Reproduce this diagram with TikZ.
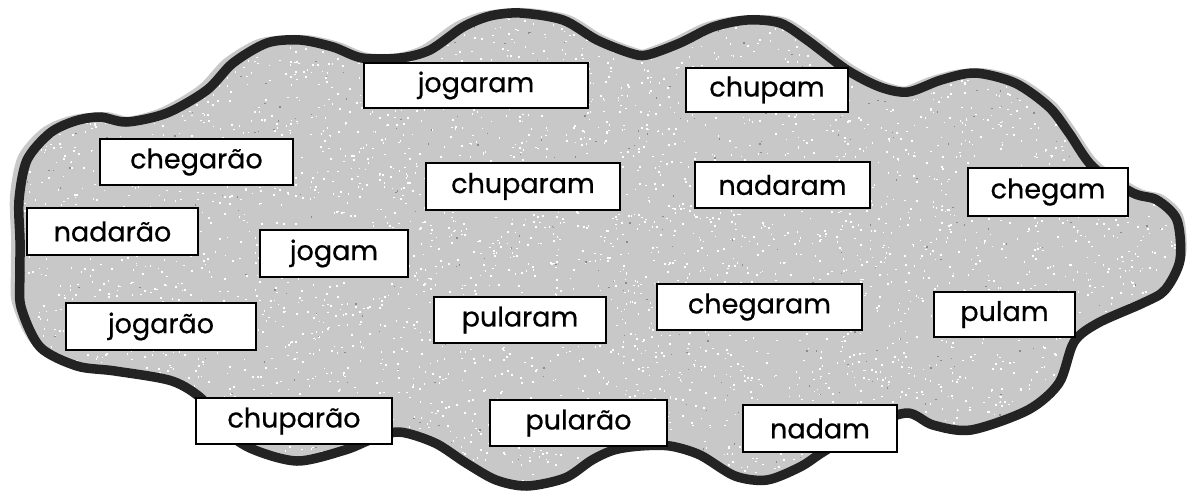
\documentclass[tikz,border=0pt]{standalone}
\usepackage{fontspec}
\setmainfont{Poppins}
\newfontfamily\wordfont{Poppins}[FakeBold=0.6]
\definecolor{cloudgray}{RGB}{200,200,200}
\definecolor{speckdark}{RGB}{140,140,140}
\definecolor{outl}{RGB}{35,35,35}
\begin{document}
\begin{tikzpicture}[x=1pt,y=-1pt,
  wbox/.style={draw=black,line width=2.2pt,fill=white,inner sep=0pt,font=\wordfont\fontsize{27}{30}\selectfont}]
\useasboundingbox (0,0) rectangle (1188,490);
\fill[white] (0,0) rectangle (1188,490);
\def\cloud{plot[smooth cycle,tension=0.5] coordinates {
 (20,240) (19,200) (27,160) (50,133) (75,121) (100,117) (127,122) (167,113) (207,90) (233,63)
 (267,43) (300,40) (333,47) (362,58) (400,58) (430,50) (463,27) (490,16) (520,13) (563,20)
 (597,40) (630,53) (647,55) (680,43) (713,27) (747,20) (780,23) (807,40) (847,70) (880,87)
 (908,92) (941,80) (975,73) (1015,83) (1049,107) (1069,133) (1093,167) (1133,193) (1157,200)
 (1177,220) (1180,260) (1165,290) (1143,303) (1098,323) (1074,342) (1059,383) (1028,410)
 (971,430) (933,425) (906,413) (860,430) (823,452) (800,467) (767,480) (735,476) (700,455)
 (670,446) (640,446) (614,450) (592,460) (565,478) (527,486) (496,480) (466,463) (435,443)
 (399,432) (370,440) (345,450) (297,461) (250,448) (218,425) (203,400) (172,381) (115,371)
 (77,366) (40,347) (21,307) (20,273)}}
% gray halo (slightly shifted) and fill
\begin{scope}[shift={(-9,-4)}]
  \fill[cloudgray] \cloud;
\end{scope}
\begin{scope}[shift={(6,-5)}]
  \fill[cloudgray] \cloud;
\end{scope}
\fill[cloudgray] \cloud;
% speckle texture
\begin{scope}
  \clip \cloud;
  \pgfmathsetseed{7}
  \foreach \i in {1,...,5200}{
    \pgfmathsetmacro\rx{rnd*1188}
    \pgfmathsetmacro\ry{rnd*490}
    \fill[white] (\rx,\ry) rectangle ++(1.6,1.6);
  }
  \foreach \i in {1,...,500}{
    \pgfmathsetmacro\rx{rnd*1188}
    \pgfmathsetmacro\ry{rnd*490}
    \fill[speckdark] (\rx,\ry) rectangle ++(1.4,1.4);
  }
\end{scope}
% outline
\draw[outl,line width=9.5pt,line join=round] \cloud;
% boxes
\node[wbox,minimum width=224pt,minimum height=45pt] (jogaram) at (476,85.5) {jogaram};
\node[wbox,minimum width=162pt,minimum height=44pt] (chupam) at (767,90) {chupam};
\node[wbox,minimum width=193pt,minimum height=46pt] (chegarao) at (196.5,162) {chegarão};
\node[wbox,minimum width=194pt,minimum height=47pt] (chuparam) at (523,186.5) {chuparam};
\node[wbox,minimum width=175pt,minimum height=46pt] (nadaram) at (782.5,185) {nadaram};
\node[wbox,minimum width=160pt,minimum height=48pt] (chegam) at (1048,192) {chegam};
\node[wbox,minimum width=171pt,minimum height=47pt] (nadarao) at (112.5,231.5) {nadarão};
\node[wbox,minimum width=148pt,minimum height=47pt] (jogam) at (334,253.5) {jogam};
\node[wbox,minimum width=190pt,minimum height=47pt] (jogarao) at (161,326.5) {jogarão};
\node[wbox,minimum width=172pt,minimum height=46pt] (pularam) at (520,320) {pularam};
\node[wbox,minimum width=205pt,minimum height=46pt] (chegaram) at (759.5,307) {chegaram};
\node[wbox,minimum width=141pt,minimum height=45pt] (pulam) at (1004.5,314.5) {pulam};
\node[wbox,minimum width=196pt,minimum height=46pt] (chuparao) at (294,421) {chuparão};
\node[wbox,minimum width=177pt,minimum height=46pt] (pularao) at (578.5,423) {pularão};
\node[wbox,minimum width=154pt,minimum height=47pt] (nadam) at (820,428.5) {nadam};
\end{tikzpicture}
\end{document}
